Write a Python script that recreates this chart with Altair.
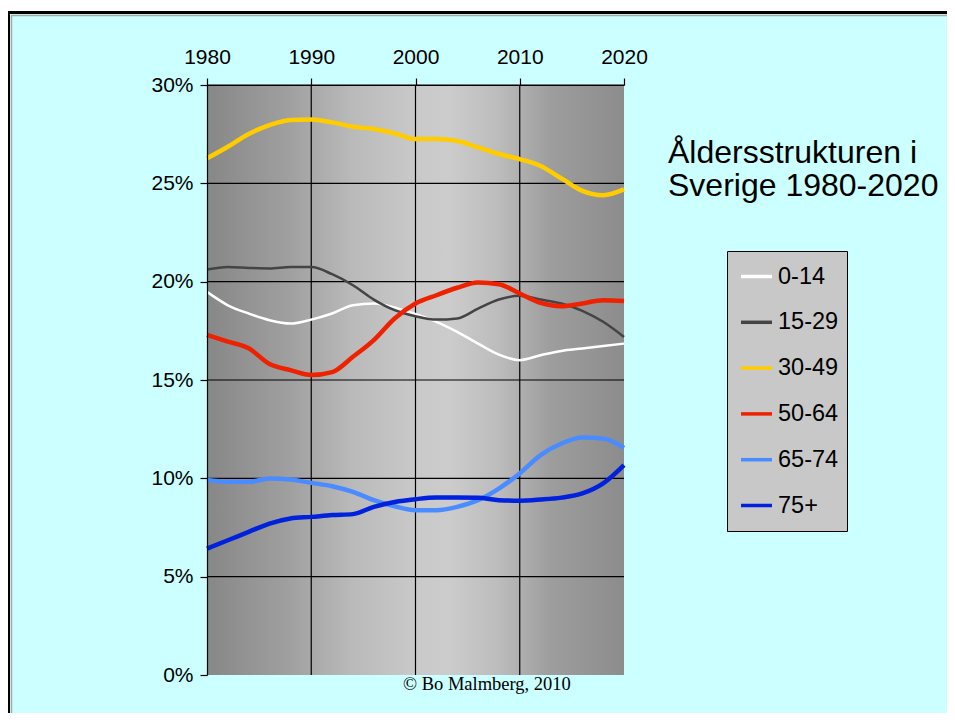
import altair as alt
import pandas as pd

# ---- data (percent of population) ----
years = list(range(1980, 2021, 2))
groups = ["0-14", "15-29", "30-49", "50-64", "65-74", "75+"]
colors = ["#ffffff", "#444444", "#ffcc00", "#ee2200", "#4a8cff", "#0022dd"]
thin_groups = ["0-14", "15-29"]

age_0_14 = [19.48, 18.80, 18.38, 18.04, 17.87, 18.07, 18.38, 18.80, 18.89, 18.69, 18.35,
            17.96, 17.45, 16.85, 16.29, 16.01, 16.26, 16.48, 16.60, 16.73, 16.85]
age_15_29 = [20.62, 20.75, 20.70, 20.67, 20.74, 20.74, 20.38, 19.82, 19.09, 18.55, 18.24,
             18.07, 18.13, 18.63, 19.09, 19.28, 19.09, 18.89, 18.52, 17.96, 17.19]
age_30_49 = [26.27, 26.86, 27.51, 27.96, 28.22, 28.25, 28.10, 27.88, 27.76, 27.54, 27.25,
             27.25, 27.15, 26.83, 26.49, 26.23, 25.88, 25.25, 24.62, 24.40, 24.69]
age_50_64 = [17.29, 16.95, 16.61, 15.81, 15.50, 15.25, 15.40, 16.18, 17.03, 18.13, 18.89,
             19.31, 19.69, 19.96, 19.87, 19.40, 18.92, 18.75, 18.89, 19.06, 19.02]
age_65_74 = [9.91, 9.82, 9.82, 9.99, 9.94, 9.77, 9.60, 9.31, 8.89, 8.58, 8.38,
             8.38, 8.55, 8.89, 9.48, 10.25, 11.18, 11.77, 12.08, 12.03, 11.55]
age_75p = [6.43, 6.85, 7.28, 7.70, 7.96, 8.04, 8.13, 8.18, 8.55, 8.80, 8.94,
           9.02, 9.02, 9.01, 8.89, 8.86, 8.92, 9.02, 9.23, 9.74, 10.67]

x_ticks = [1980, 1990, 2000, 2010, 2020]
y_ticks = [0, 5, 10, 15, 20, 25, 30]
x_grid = [1990, 2000, 2010]
y_grid = [5, 10, 15, 20, 25, 30]

title_lines = ["Åldersstrukturen i", "Sverige 1980-2020"]
credit = "© Bo Malmberg, 2010"

series = [age_0_14, age_15_29, age_30_49, age_50_64, age_65_74, age_75p]
rows = []
for g, vals in zip(groups, series):
    for yr, v in zip(years, vals):
        rows.append({"year": yr, "share": v, "group": g})
df = pd.DataFrame(rows)
df_thin = df[df["group"].isin(thin_groups)]
df_thick = df[~df["group"].isin(thin_groups)]

FONT = "Liberation Sans"
W, H = 417, 590
TOTAL_W, TOTAL_H = 939, 705
RIGHT = TOTAL_W - 199  # right edge of the page frame, in plot coordinates
BOTTOM = TOTAL_H - 77

x_scale = alt.Scale(domain=[x_ticks[0], x_ticks[-1]], nice=False, zero=False)
y_scale = alt.Scale(domain=[y_ticks[0], y_ticks[-1]], nice=False, zero=False)
x_axis = alt.Axis(orient="top", values=x_ticks, format="d", title=None, grid=False,
                  labelFont=FONT, labelFontSize=21, labelColor="black", labelPadding=11,
                  labelFlush=False, labelOverlap=False,
                  domainColor="black", domainWidth=1.2, tickColor="black",
                  tickWidth=1.2, tickSize=7, zindex=1)
y_axis = alt.Axis(values=y_ticks, labelExpr="datum.value + '%'", title=None, grid=False,
                  labelFont=FONT, labelFontSize=21, labelColor="black", labelPadding=7,
                  labelFlush=False, labelOverlap=False,
                  domainColor="black", domainWidth=1.2, tickColor="black",
                  tickWidth=1.2, tickSize=7, zindex=1)


def X(field):
    return alt.X(field, type="quantitative", scale=x_scale, axis=x_axis)


def Y(field):
    return alt.Y(field, type="quantitative", scale=y_scale, axis=y_axis)


one = alt.Data(values=[{}])

# page frame (decoration): cyan panel, black top/left border, thin grey inner line
panel = alt.Chart(one).mark_rect(fill="#ccffff").encode(
    x=alt.value(-198), x2=alt.value(RIGHT), y=alt.value(-72.5), y2=alt.value(BOTTOM))
top_black = alt.Chart(one).mark_rule(color="black", strokeWidth=3).encode(
    x=alt.value(-199.5), x2=alt.value(RIGHT), y=alt.value(-72.5))
left_black = alt.Chart(one).mark_rule(color="black", strokeWidth=3).encode(
    x=alt.value(-198.5), y=alt.value(-74), y2=alt.value(BOTTOM))
top_grey = alt.Chart(one).mark_rule(color="#a8a8a8", strokeWidth=1.5).encode(
    x=alt.value(-196), x2=alt.value(RIGHT), y=alt.value(-69.5))
left_grey = alt.Chart(one).mark_rule(color="#a8a8a8", strokeWidth=1.5).encode(
    x=alt.value(-195.5), y=alt.value(-70), y2=alt.value(BOTTOM))

# gradient plot background
bg_df = pd.DataFrame({"x0": [x_ticks[0]], "x1": [x_ticks[-1]], "y0": [y_ticks[0]], "y1": [y_ticks[-1]]})
grad = alt.Gradient(
    gradient="linear", x1=0, x2=1, y1=0, y2=0,
    stops=[
        alt.GradientStop(offset=0.0, color="#878787"),
        alt.GradientStop(offset=0.2, color="#a0a0a0"),
        alt.GradientStop(offset=0.35, color="#bababa"),
        alt.GradientStop(offset=0.5, color="#c9c9c9"),
        alt.GradientStop(offset=0.58, color="#cccccc"),
        alt.GradientStop(offset=0.7, color="#bcbcbc"),
        alt.GradientStop(offset=0.82, color="#9e9e9e"),
        alt.GradientStop(offset=1.0, color="#8c8c8c"),
    ])
bg = alt.Chart(bg_df).mark_rect(color=grad).encode(
    x=X("x0"), x2=alt.X2("x1"), y=Y("y0"), y2=alt.Y2("y1"))

grid_h = alt.Chart(pd.DataFrame({"gy": y_grid})).mark_rule(color="black", strokeWidth=1.2).encode(
    y=Y("gy"))
grid_v = alt.Chart(pd.DataFrame({"gx": x_grid})).mark_rule(color="black", strokeWidth=1.2).encode(
    x=X("gx"))

leg = alt.Legend(orient="none", legendX=520, legendY=166,
                 title="\u00a0", titleOrient="bottom", titleFontSize=4, titlePadding=2,
                 fillColor="#c8c8c8", strokeColor="black", padding=8,
                 symbolType="stroke", symbolSize=961, symbolOffset=4, symbolStrokeWidth=3.5,
                 labelFont=FONT, labelFontSize=23.5, labelColor="black", labelOffset=4,
                 labelExpr="datum.label + '\u00a0'",
                 rowPadding=16.8, zindex=1)
color = alt.Color("group:N", sort=groups,
                  scale=alt.Scale(domain=groups, range=colors), legend=leg)

thin = alt.Chart(df_thin).mark_line(interpolate="monotone", strokeWidth=2.5).encode(
    x=X("year"), y=Y("share"), color=color, order=alt.Order("year:Q"))
thick = alt.Chart(df_thick).mark_line(interpolate="monotone", strokeWidth=4.5).encode(
    x=X("year"), y=Y("share"), color=color, order=alt.Order("year:Q"))

title = alt.Chart(one).mark_text(text=title_lines, font=FONT, fontSize=32, lineHeight=33,
                                 align="left", baseline="alphabetic", color="black").encode(
    x=alt.value(461), y=alt.value(78))
copy = alt.Chart(one).mark_text(text=credit, font="Liberation Serif", fontSize=18.5,
                                align="left", baseline="alphabetic", color="black").encode(
    x=alt.value(196), y=alt.value(605))

chart = alt.layer(panel, top_black, left_black, top_grey, left_grey, bg, grid_h, grid_v,
                  thin, thick, title, copy).properties(
    width=W, height=H,
    autosize=alt.AutoSizeParams(type="none"),
    padding={"left": 199, "top": 77, "right": TOTAL_W - 199 - W, "bottom": TOTAL_H - 77 - H},
    background="#ffffff",
).configure_view(strokeWidth=0)

chart.save("out.html", embed_options={"renderer": "svg", "actions": False})
